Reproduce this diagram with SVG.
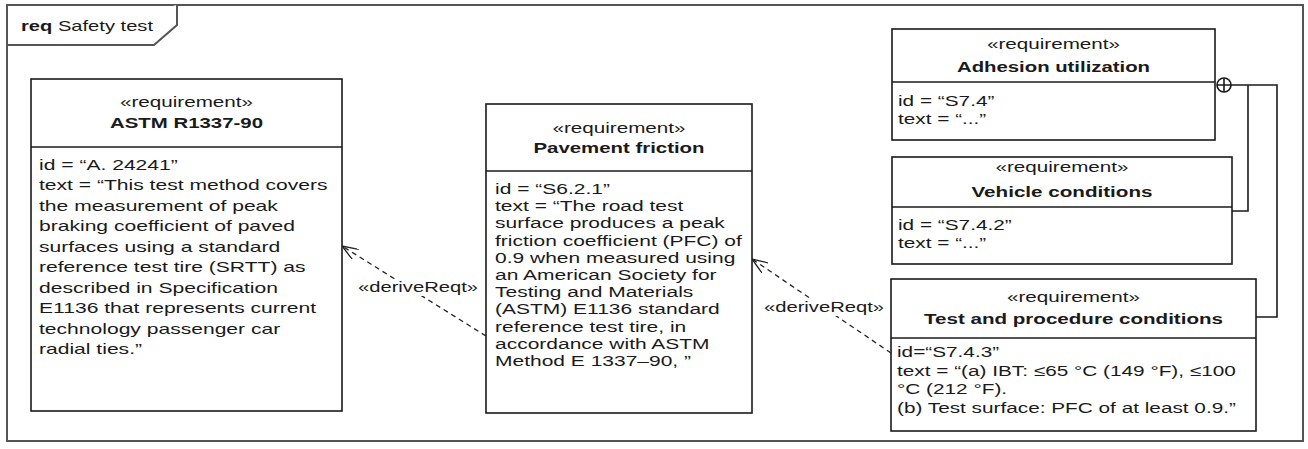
<svg xmlns="http://www.w3.org/2000/svg" width="1308" height="449" viewBox="0 0 1308 449">
<style>
.frame{fill:#fff;stroke:#555;stroke-width:2}
.box{fill:#fff;stroke:#1a1a1a;stroke-width:1.6}
.ln{stroke:#1a1a1a;stroke-width:1.6;fill:none}
.t{font-family:"Liberation Sans",Arial,sans-serif;font-size:15px;fill:#1a1a1a}
.st{font-size:14px}
.b{font-weight:bold;font-size:14.5px}
.dash{stroke:#222;stroke-width:1.3;stroke-dasharray:5 4;fill:none}
.bg{fill:#fff}
</style>
<defs>
<marker id="open" viewBox="0 0 16 12" refX="16" refY="6" markerWidth="16" markerHeight="12" markerUnits="userSpaceOnUse" orient="auto">
<path d="M0,0 L16,6 L0,12" fill="none" stroke="#222" stroke-width="1.3" stroke-dasharray="none"/>
</marker>
</defs>
<rect width="1308" height="449" fill="#fff"/>
<g id="frame">
<rect class="frame" x="7" y="5" width="1296" height="436"/>
<path class="frame" d="M7,45 L154,45 L177,25 L177,5" fill="none"/>
<text class="t" x="21" y="31" textLength="132" lengthAdjust="spacingAndGlyphs"><tspan font-weight="bold">req</tspan> Safety test</text>
</g>
<g id="astm">
<rect class="box" x="31" y="79" width="311" height="332"/>
<line class="ln" x1="31" y1="147" x2="342" y2="147"/>
<text class="t st" x="186.5" y="107" text-anchor="middle" textLength="133" lengthAdjust="spacingAndGlyphs">«requirement»</text>
<text class="t b" x="186.5" y="127.5" text-anchor="middle" textLength="153" lengthAdjust="spacingAndGlyphs">ASTM R1337-90</text>
<g transform="translate(39 0) scale(1.405 1)">
<text class="t" x="0" y="170">id = “A. 24241”</text>
<text class="t" x="0" y="190.5">text = “This test method covers</text>
<text class="t" x="0" y="211">the measurement of peak</text>
<text class="t" x="0" y="231.5">braking coefficient of paved</text>
<text class="t" x="0" y="252">surfaces using a standard</text>
<text class="t" x="0" y="272.5">reference test tire (SRTT) as</text>
<text class="t" x="0" y="293">described in Specification</text>
<text class="t" x="0" y="313.5">E1136 that represents current</text>
<text class="t" x="0" y="334">technology passenger car</text>
<text class="t" x="0" y="354.5">radial ties.”</text>
</g>
</g>
<g id="pavement">
<rect class="box" x="486" y="104" width="266" height="309"/>
<line class="ln" x1="486" y1="171" x2="752" y2="171"/>
<text class="t st" x="619" y="133" text-anchor="middle" textLength="133" lengthAdjust="spacingAndGlyphs">«requirement»</text>
<text class="t b" x="619" y="153" text-anchor="middle" textLength="171" lengthAdjust="spacingAndGlyphs">Pavement friction</text>
<g transform="translate(495 0) scale(1.4 1)">
<text class="t" x="0" y="194">id = “S6.2.1”</text>
<text class="t" x="0" y="211.2">text = “The road test</text>
<text class="t" x="0" y="228.4">surface produces a peak</text>
<text class="t" x="0" y="245.6">friction coefficient (PFC) of</text>
<text class="t" x="0" y="262.8">0.9 when measured using</text>
<text class="t" x="0" y="280">an American Society for</text>
<text class="t" x="0" y="297.2">Testing and Materials</text>
<text class="t" x="0" y="314.4">(ASTM) E1136 standard</text>
<text class="t" x="0" y="331.6">reference test tire, in</text>
<text class="t" x="0" y="348.8">accordance with ASTM</text>
<text class="t" x="0" y="366">Method E 1337–90, ”</text>
</g>
</g>
<g id="adhesion">
<rect class="box" x="892" y="29" width="323" height="111"/>
<line class="ln" x1="892" y1="82" x2="1215" y2="82"/>
<text class="t st" x="1053.5" y="49" text-anchor="middle" textLength="133" lengthAdjust="spacingAndGlyphs">«requirement»</text>
<text class="t b" x="1053.5" y="71.5" text-anchor="middle" textLength="193" lengthAdjust="spacingAndGlyphs">Adhesion utilization</text>
<g transform="translate(898 0) scale(1.385 1)">
<text class="t" x="0" y="106">id = “S7.4”</text>
<text class="t" x="0" y="124.5">text = “...”</text>
</g>
</g>
<g id="vehicle">
<rect class="box" x="892" y="157" width="340" height="107"/>
<line class="ln" x1="892" y1="207" x2="1232" y2="207"/>
<text class="t st" x="1062" y="172" text-anchor="middle" textLength="133" lengthAdjust="spacingAndGlyphs">«requirement»</text>
<text class="t b" x="1062" y="197" text-anchor="middle" textLength="181" lengthAdjust="spacingAndGlyphs">Vehicle conditions</text>
<g transform="translate(898 0) scale(1.385 1)">
<text class="t" x="0" y="230">id = “S7.4.2”</text>
<text class="t" x="0" y="248.5">text = “...”</text>
</g>
</g>
<g id="testproc">
<rect class="box" x="891" y="279" width="365" height="152"/>
<line class="ln" x1="891" y1="338" x2="1256" y2="338"/>
<text class="t st" x="1073.5" y="302" text-anchor="middle" textLength="133" lengthAdjust="spacingAndGlyphs">«requirement»</text>
<text class="t b" x="1073.5" y="324" text-anchor="middle" textLength="299" lengthAdjust="spacingAndGlyphs">Test and procedure conditions</text>
<g transform="translate(897 0) scale(1.385 1)">
<text class="t" x="0" y="357">id=“S7.4.3”</text>
<text class="t" x="0" y="375.6">text = “(a) IBT: ≤65 °C (149 °F), ≤100</text>
<text class="t" x="0" y="394.2">°C (212 °F).</text>
<text class="t" x="0" y="412.8">(b) Test surface: PFC of at least 0.9.”</text>
</g>
</g>
<g id="connectors">
<line class="dash" x1="486" y1="336" x2="342" y2="246" marker-end="url(#open)"/>
<rect class="bg" x="358" y="279" width="120" height="17"/>
<text class="t st" x="418" y="292" text-anchor="middle" textLength="120" lengthAdjust="spacingAndGlyphs">«deriveReqt»</text>
<line class="dash" x1="891" y1="353" x2="752" y2="259" marker-end="url(#open)"/>
<rect class="bg" x="764" y="299" width="120" height="17"/>
<text class="t st" x="824" y="312" text-anchor="middle" textLength="120" lengthAdjust="spacingAndGlyphs">«deriveReqt»</text>
<circle cx="1224" cy="85" r="7" fill="#fff" stroke="#1a1a1a" stroke-width="1.6"/>
<path class="ln" d="M1217,85 H1231 M1224,78 V92"/>
<path class="ln" d="M1231,85 H1277 V317 H1256"/>
<path class="ln" d="M1248,85 V211 H1232"/>
</g>
</svg>
